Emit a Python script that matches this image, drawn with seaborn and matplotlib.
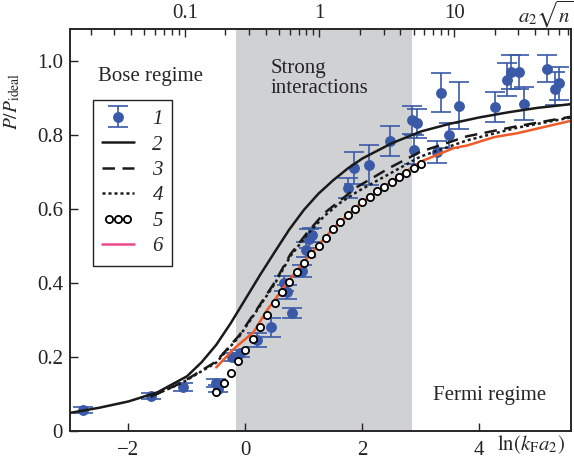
import numpy as np
import matplotlib
matplotlib.use("Agg")
import matplotlib.pyplot as plt
import seaborn as sns
from matplotlib.legend_handler import HandlerLine2D, HandlerErrorbar

# datos experimentales (1): ln(kF a2), P/Pideal, error
exp_x = [-2.77, -1.62, -1.06, -0.50, -0.47, -0.23, -0.09, 0.20, 0.43, 0.80, 0.71, 0.66,
         0.96, 1.03, 1.08, 1.14, 1.75, 1.85, 2.12, 2.47, 2.85, 2.93, 2.89, 3.35, 3.66,
         3.48, 3.28, 4.26, 4.77, 4.48, 4.54, 4.67, 5.16, 5.30, 5.36]
exp_y = [0.057, 0.095, 0.119, 0.130, 0.115, 0.200, 0.210, 0.246, 0.280, 0.320, 0.376, 0.400,
         0.433, 0.490, 0.520, 0.530, 0.658, 0.712, 0.719, 0.785, 0.842, 0.832, 0.761, 0.915, 0.880,
         0.800, 0.755, 0.877, 0.885, 0.950, 0.971, 0.971, 0.980, 0.926, 0.940]
exp_err = [0.008, 0.008, 0.010, 0.012, 0.010, 0.010, 0.010, 0.020, 0.025, 0.014, 0.020, 0.020,
           0.017, 0.020, 0.025, 0.020, 0.027, 0.043, 0.055, 0.041, 0.038, 0.040, 0.040, 0.052, 0.063,
           0.034, 0.030, 0.041, 0.044, 0.045, 0.045, 0.045, 0.036, 0.044, 0.044]

# curva 2 (linea continua)
c2_x = [-3.0, -2.5, -2.0, -1.5, -1.0, -0.75, -0.5, -0.25, 0.0, 0.25, 0.5, 0.75, 1.0, 1.25,
        1.5, 1.75, 2.0, 2.5, 3.0, 3.5, 4.0, 4.5, 5.0, 5.57]
c2_y = [0.049, 0.063, 0.080, 0.105, 0.148, 0.186, 0.233, 0.292, 0.357, 0.422, 0.484, 0.545,
        0.598, 0.642, 0.678, 0.710, 0.737, 0.778, 0.810, 0.831, 0.848, 0.862, 0.874, 0.884]

# curva 3 (discontinua)
c3_x = [-1.62, -1.1, -0.5, -0.1, 0.2, 0.5, 0.77, 1.05, 1.34, 1.91, 2.48, 2.99, 3.79, 4.64, 5.57]
c3_y = [0.093, 0.130, 0.188, 0.260, 0.330, 0.402, 0.478, 0.535, 0.588, 0.660, 0.713, 0.755,
        0.797, 0.824, 0.850]

# curva 4 (punteada)
c4_x = [-1.62, -1.1, -0.5, -0.1, 0.2, 0.5, 0.77, 1.05, 1.34, 1.6, 1.91, 2.48, 2.99, 3.79, 4.64, 5.57]
c4_y = [0.093, 0.129, 0.185, 0.257, 0.327, 0.398, 0.473, 0.530, 0.580, 0.615, 0.647, 0.697,
        0.742, 0.786, 0.820, 0.848]

# curva 5 (circulos)
c5_x = [-0.5, -0.375, -0.25, -0.125, 0.0, 0.125, 0.25, 0.375, 0.5, 0.625, 0.75, 0.875, 1.0,
        1.125, 1.25, 1.375, 1.5, 1.625, 1.75, 1.875, 2.0, 2.125, 2.25, 2.375, 2.5, 2.625,
        2.75, 2.875, 3.0]
c5_y = [0.106, 0.131, 0.158, 0.189, 0.219, 0.250, 0.282, 0.315, 0.345, 0.375, 0.403, 0.429,
        0.455, 0.478, 0.500, 0.523, 0.545, 0.564, 0.583, 0.600, 0.618, 0.634, 0.648, 0.661,
        0.673, 0.686, 0.698, 0.712, 0.722]

# curva 6 (roja)
c6_x = [-0.5, -0.2, 0.14, 0.37, 0.71, 1.0, 1.5, 2.0, 2.5, 2.99, 3.56, 3.79, 4.26, 4.64, 5.57]
c6_y = [0.172, 0.222, 0.268, 0.327, 0.400, 0.458, 0.548, 0.620, 0.675, 0.728, 0.765, 0.772,
        0.795, 0.805, 0.839]

sns.set_theme(style="ticks")
plt.rcParams['font.family'] = ['Liberation Serif', 'DejaVu Serif']
plt.rcParams['mathtext.fontset'] = 'stix'
plt.rcParams['font.size'] = 15

azul = '#3a5aa8'
gris = '#d0d1d3'

fig = plt.figure(figsize=(5.74, 4.61), dpi=100)
ax = fig.add_axes([0.122, 0.065, 0.873, 0.872])

xmin, xmax = -3.0, 5.57
ymin, ymax = 0.0, 1.087
ax.axvspan(-0.17, 2.85, color=gris, lw=0, zorder=0)

h1 = ax.errorbar(exp_x, exp_y, yerr=exp_err, fmt='o', color=azul, ms=6.8,
                 elinewidth=1.2, capsize=7.5, capthick=1.2, zorder=2)

sns.lineplot(x=c2_x, y=c2_y, ax=ax, color='#1a1a1a', lw=1.8, zorder=3)
h2 = ax.lines[-1]
sns.lineplot(x=c3_x, y=c3_y, ax=ax, color='#1a1a1a', lw=1.8, zorder=3)
h3 = ax.lines[-1]
h3.set_dashes([5, 3])
sns.lineplot(x=c4_x, y=c4_y, ax=ax, color='#1a1a1a', lw=1.8, zorder=3)
h4 = ax.lines[-1]
h4.set_dashes([1.2, 1.2])
sns.lineplot(x=c6_x, y=c6_y, ax=ax, color='#f05a28', lw=1.8, zorder=3)
h6 = ax.lines[-1]
sns.lineplot(x=c5_x, y=c5_y, ax=ax, color='black', linestyle='', marker='o', ms=5.2,
             markerfacecolor='white', markeredgecolor='black', mew=1.3, zorder=4)
h5 = ax.lines[-1]

# proxy rosa para la leyenda de la curva 6
h6_leg = matplotlib.lines.Line2D([], [], color='#ea4a8c', lw=1.8)

ax.set_xlim(xmin, xmax)
ax.set_ylim(ymin, ymax)
ax.set_xticks([-2, 0, 2, 4])
ax.set_xticklabels(['\u22122', '0', '2', '4'])
ax.set_yticks([0, 0.2, 0.4, 0.6, 0.8, 1.0])
ax.set_yticklabels(['0', '0.2', '0.4', '0.6', '0.8', '1.0'])
ax.tick_params(direction='in', length=6, width=1, labelsize=15, pad=5, colors='#222222')
ax.tick_params(axis='x', pad=7)
for s in ax.spines.values():
    s.set_linewidth(1.1)
    s.set_color('#222222')
ax.set_xlabel('')
ax.set_ylabel(r'$P/P_{\rm ideal}$', fontsize=14)
ax.yaxis.set_label_coords(-0.095, 0.82)

ax.text(0.92, -0.035, r'$\ln(k_{\rm F}a_2)$', transform=ax.transAxes, ha='center', va='center',
        fontsize=15)

# eje superior: a2*sqrt(n) = exp(ln(kF a2)) / sqrt(4 pi)
c = np.log(np.sqrt(4 * np.pi))
ax2 = ax.twiny()
ax2.set_xscale('log')
ax2.set_xlim(np.exp(xmin - c), np.exp(xmax - c))
ax2.set_xticks([0.1, 1, 10])
ax2.set_xticklabels(['0.1', '1', '10'])
ax2.tick_params(which='major', direction='in', length=6, width=1, labelsize=15, pad=4)
ax2.tick_params(which='minor', direction='in', length=4, width=1)
ax.text(0.95, 1.037, r'$a_2\sqrt{n}$', transform=ax.transAxes, ha='center', va='center',
        fontsize=15)

ax.text(-2.53, 0.96, 'Bose regime', fontsize=15, va='center', ha='left')
ax.text(0.43, 0.954, 'Strong\ninteractions', fontsize=15, va='center', ha='left',
        linespacing=1.05)
ax.text(3.2, 0.095, 'Fermi regime', fontsize=15, va='center', ha='left')

leg = ax.legend([h1, h2, h3, h4, h5, h6_leg], ['1', '2', '3', '4', '5', '6'],
                loc='upper left', bbox_to_anchor=(0.046, 0.823), borderaxespad=0,
                frameon=True, fancybox=False, edgecolor='#222222', handlelength=1.5,
                handletextpad=0.9, labelspacing=0.28, borderpad=0.45,
                prop={'style': 'italic', 'size': 15},
                handler_map={h5: HandlerLine2D(numpoints=3), h1: HandlerErrorbar(numpoints=1)})
leg.get_frame().set_linewidth(1.0)
leg.get_frame().set_alpha(1)

fig.savefig('out.png', dpi=100)
